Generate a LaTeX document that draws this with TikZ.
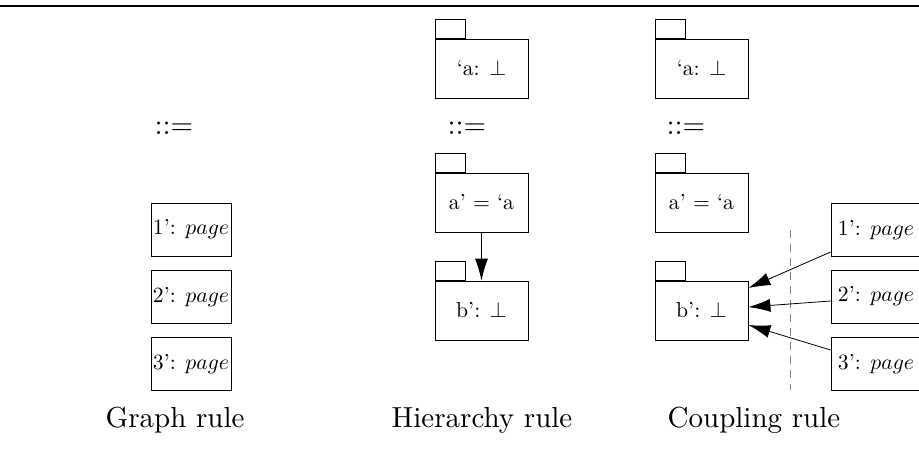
\documentclass[tikz,border=0pt]{standalone}
\usepackage{graphicx}
\usetikzlibrary{arrows.meta}
\newcommand{\sclbig}[1]{\scalebox{2.9}{#1}}
\newcommand{\sclbox}[1]{\scalebox{2.17}{#1}}
\tikzset{
  x=1pt, y=-1pt,
  body/.style={draw, line width=0.8pt, minimum width=93pt, minimum height=59pt, inner sep=0pt},
  tabbox/.style={draw, line width=0.8pt, minimum width=30pt, minimum height=19pt, inner sep=0pt, anchor=south west},
  pagebox/.style={draw, line width=0.8pt, minimum width=80pt, minimum height=53pt, inner sep=0pt},
  widepage/.style={pagebox, minimum width=90pt},
  defsym/.style={inner sep=0pt},
  caption/.style={inner sep=0pt, anchor=base},
  arr/.style={line width=0.8pt, -{Latex[length=22pt,width=13pt]}},
}
\begin{document}
\begin{tikzpicture}
\useasboundingbox (0,0) rectangle (919,459);
% top rule
\draw[line width=2.4pt] (0,6) -- (919,6);

% Graph rule
\node[defsym] (g0) at (174,128) {\sclbig{$::=$}};
\node[pagebox] (g1) at (191,229.5) {\sclbox{1': $page$}};
\node[pagebox] (g2) at (191,297) {\sclbox{2': $page$}};
\node[pagebox] (g3) at (191,364) {\sclbox{3': $page$}};
\node[caption] (gc) at (175,427) {\sclbig{Graph rule}};

% Hierarchy rule
\node[body] (h1) at (481.5,68.5) {\sclbox{`a: $\perp$}};
\node[tabbox] (h1t) at (h1.north west) {};
\node[defsym] (h0) at (467,128) {\sclbig{$::=$}};
\node[body] (h2) at (481.5,202.5) {\sclbox{a' $=$ `a}};
\node[tabbox] (h2t) at (h2.north west) {};
\node[body] (h3) at (481.5,310.5) {\sclbox{b': $\perp$}};
\node[tabbox] (h3t) at (h3.north west) {};
\draw[arr] (h2) -- (h3);
\node[caption] (hc) at (482,427) {\sclbig{Hierarchy rule}};

% Coupling rule
\node[body] (c1) at (701.5,68.5) {\sclbox{`a: $\perp$}};
\node[tabbox] (c1t) at (c1.north west) {};
\node[defsym] (c0) at (686,128) {\sclbig{$::=$}};
\node[body] (c2) at (701.5,202.5) {\sclbox{a' $=$ `a}};
\node[tabbox] (c2t) at (c2.north west) {};
\node[body] (c3) at (701.5,310.5) {\sclbox{b': $\perp$}};
\node[tabbox] (c3t) at (c3.north west) {};
\node[widepage] (p1) at (876,230) {\sclbox{1': $page$}};
\node[widepage] (p2) at (876,296.5) {\sclbox{2': $page$}};
\node[widepage] (p3) at (876,364) {\sclbox{3': $page$}};
\coordinate (d1) at (790,230);
\coordinate (d2) at (790,390);
\draw[gray, line width=0.8pt, dash pattern=on 8pt off 6pt] (d1) -- (d2);
\draw[arr] (p1.west |- 0,252) -- (c3.east |- 0,288);
\draw[arr] (p2.west |- 0,301) -- (c3.east |- 0,307);
\draw[arr] (p3.west |- 0,350) -- (c3.east |- 0,325);
\node[caption] (cc) at (754,427) {\sclbig{Coupling rule}};
\end{tikzpicture}
\end{document}
